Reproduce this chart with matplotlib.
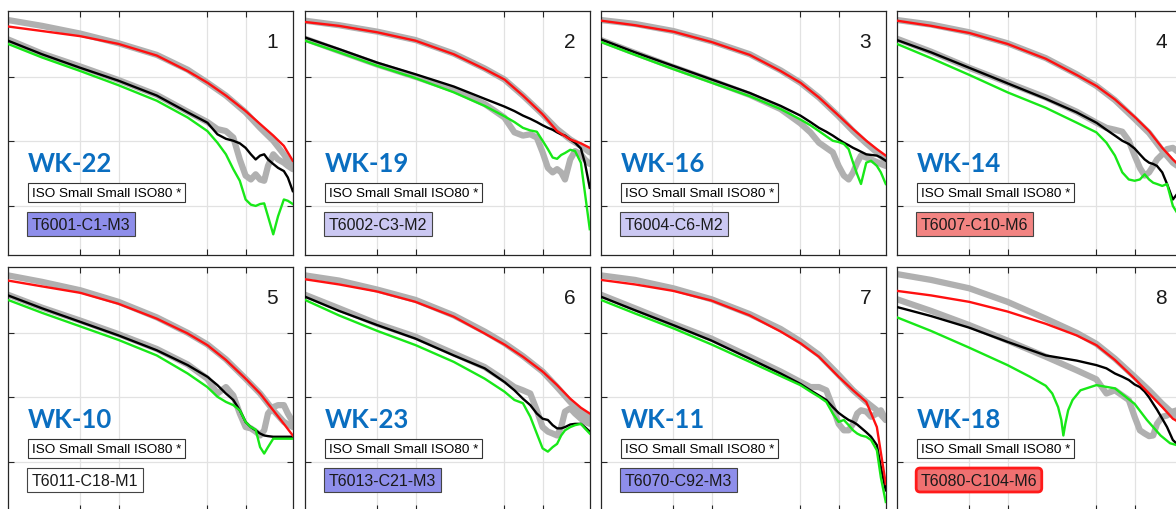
import matplotlib
matplotlib.use("Agg")
import matplotlib.pyplot as plt

# ---------------- data ----------------
X_SMOOTH = [0.27, 0.5, 1, 2, 4, 7, 10, 14, 20, 26, 33, 40, 47]
X_FINE = [0.27, 0.5, 1, 2, 4, 7, 10, 12, 14, 16, 18, 20, 22, 24, 26, 28, 30, 33, 36, 40, 43, 47]
X_P8_GREEN = [0.27, 0.5, 1, 2, 3, 4, 4.5, 5.0, 5.3, 5.5, 5.7, 6.0, 6.5, 7.5, 10, 14, 20, 25, 32, 38, 43, 47]

panel_numbers = ["1", "2", "3", "4", "5", "6", "7", "8"]
wk_labels = ["WK-22", "WK-19", "WK-16", "WK-14", "WK-10", "WK-23", "WK-11", "WK-18"]
case_labels = ["T6001-C1-M3", "T6002-C3-M2", "T6004-C6-M2", "T6007-C10-M6",
               "T6011-C18-M1", "T6013-C21-M3", "T6070-C92-M3", "T6080-C104-M6"]
case_colors = ["#8E8EEA", "#CBC8F2", "#CBC8F2", "#F28482",
               "#FFFFFF", "#8E8EEA", "#8E8EEA", "#F07070"]
iso_label = "ISO Small Small ISO80 *"

# smooth curves (X_SMOOTH)
p1_red = [37.8, 37.1, 36.3, 35.1, 33.3, 30.9, 29.1, 27.1, 24.7, 22.7, 20.9, 19.3, 17.0]
p1_gray_up = [38.8, 37.9, 36.7, 35.2, 33.4, 31.1, 29.1, 27.1, 24.5, 22.1, 20.1, 18.0, 15.9]
p2_red = [38.5, 37.9, 36.9, 35.6, 33.5, 31.2, 29.6, 27.1, 24.2, 21.6, 20.3, 19.7, 19.0]
p2_gray_up = [38.7, 38.0, 37.0, 35.7, 33.6, 31.3, 29.6, 27.1, 24.2, 21.9, 20.3, 19.3, 18.3]
p3_red = [38.7, 38.0, 37.0, 35.4, 33.4, 30.9, 29.1, 26.8, 24.0, 21.9, 20.1, 18.8, 17.8]
p3_gray_up = [38.8, 38.2, 37.1, 35.5, 33.5, 31.0, 29.1, 26.8, 23.9, 21.6, 19.7, 18.3, 17.0]
p4_red = [38.7, 37.9, 36.8, 35.1, 32.8, 30.3, 28.6, 26.5, 23.8, 21.6, 19.0, 17.2, 15.9]
p4_gray_up = [38.8, 38.1, 36.9, 35.2, 32.9, 30.4, 28.6, 26.4, 23.5, 21.3, 18.6, 16.7, 15.7]
p5_red = [38.1, 37.2, 36.2, 34.5, 32.2, 29.9, 28.1, 25.8, 22.9, 20.6, 18.0, 15.9, 14.1]
p5_gray_up = [38.9, 37.9, 36.6, 34.8, 32.4, 30.0, 28.2, 25.9, 22.9, 20.6, 18.0, 16.2, 15.4]
p6_red = [38.3, 37.5, 36.4, 34.8, 32.5, 29.9, 28.2, 26.3, 24.0, 21.9, 19.8, 18.4, 17.5]
p6_gray_up = [38.9, 38.1, 36.7, 35.1, 32.7, 30.2, 28.4, 26.4, 24.0, 21.6, 19.3, 17.8, 16.7]
p7_red = [38.2, 37.5, 36.5, 35.0, 32.7, 30.2, 28.4, 26.3, 23.2, 21.1, 19.3, 15.4, 6.6]
p7_gray_up = [38.9, 38.2, 36.9, 35.2, 32.9, 30.6, 28.7, 26.6, 23.5, 21.1, 19.3, 18.0, 16.5]
p8_red = [36.5, 35.8, 34.8, 33.3, 31.4, 29.6, 28.1, 25.8, 22.9, 20.6, 18.5, 16.7, 15.9]
p8_gray_up = [39.1, 38.2, 36.9, 34.8, 32.2, 30.0, 28.3, 26.0, 23.2, 21.1, 19.0, 17.5, 16.5]

# jagged curves (X_FINE)
p1_black = [35.6, 33.5, 31.4, 29.4, 27.1, 24.5, 22.9, 21.1, 20.4, 20.1, 19.7, 19.0, 18.0, 17.2, 17.8, 18.0, 17.2, 16.5, 15.9, 15.4, 14.4, 12.3]
p1_green = [35.1, 33.0, 30.9, 28.7, 26.3, 23.7, 21.6, 19.8, 18.0, 15.7, 13.9, 11.0, 10.2, 10.0, 10.3, 10.4, 8.4, 5.6, 8.4, 11.0, 10.8, 10.3]
p1_gray_lo = [35.8, 33.6, 31.6, 29.5, 27.2, 24.6, 23.0, 21.9, 21.6, 20.6, 17.2, 14.7, 14.1, 14.9, 14.1, 13.9, 16.2, 18.0, 17.2, 16.7, 16.2, 15.7]
p2_black = [36.1, 34.3, 32.2, 30.4, 28.5, 26.6, 25.4, 24.7, 24.0, 23.5, 23.0, 22.5, 22.1, 21.8, 21.4, 21.1, 20.9, 20.3, 19.8, 18.9, 16.7, 12.8]
p2_green = [35.6, 33.8, 31.7, 29.8, 27.6, 25.5, 23.9, 23.0, 22.1, 21.7, 21.5, 20.1, 18.8, 17.5, 17.3, 17.9, 18.2, 18.7, 18.5, 16.7, 12.1, 6.4]
p2_gray_lo = [35.9, 34.0, 31.9, 30.0, 28.0, 25.8, 23.7, 21.4, 20.9, 21.1, 20.6, 18.3, 15.9, 15.2, 15.7, 15.2, 14.1, 17.2, 18.5, 18.0, 17.2, 16.5]
p3_black = [35.8, 33.8, 31.7, 29.6, 27.5, 25.5, 24.0, 23.0, 22.1, 21.5, 20.9, 20.3, 19.8, 19.4, 19.0, 18.7, 18.4, 18.0, 17.9, 17.8, 17.5, 17.0]
p3_green = [35.4, 33.4, 31.2, 29.1, 27.0, 25.0, 23.4, 22.5, 21.6, 20.8, 20.1, 19.9, 19.6, 18.8, 16.7, 14.9, 13.4, 16.7, 17.0, 16.2, 15.2, 13.4]
p3_gray_lo = [35.7, 33.7, 31.5, 29.4, 27.2, 25.0, 22.8, 21.4, 19.8, 19.0, 18.3, 16.2, 14.7, 14.1, 15.2, 16.7, 17.8, 17.5, 17.2, 16.8, 16.5, 16.2]
p4_black = [35.7, 33.8, 31.4, 29.0, 26.6, 24.5, 22.9, 21.8, 20.9, 20.1, 19.6, 18.9, 18.0, 17.2, 16.7, 16.5, 16.2, 15.2, 13.4, 11.0, 11.8, 12.1]
p4_green = [35.1, 32.9, 30.3, 27.6, 25.2, 22.9, 21.4, 19.8, 17.8, 15.2, 14.1, 13.9, 14.1, 14.9, 14.1, 13.6, 13.4, 13.1, 13.4, 10.0, 9.0, 9.0]
p4_gray_lo = [35.9, 33.9, 31.4, 29.1, 26.8, 24.6, 22.9, 22.1, 21.8, 21.5, 20.1, 17.8, 15.9, 14.7, 15.2, 16.2, 17.2, 18.0, 18.8, 19.0, 18.5, 18.3]
p5_black = [35.8, 33.8, 31.7, 29.6, 27.3, 25.0, 23.2, 21.9, 20.6, 19.6, 18.0, 16.2, 15.4, 14.9, 14.4, 14.1, 14.0, 13.9, 13.9, 13.9, 13.9, 13.9]
p5_green = [35.1, 33.1, 31.0, 28.9, 26.5, 23.7, 21.6, 20.1, 19.3, 18.8, 18.0, 16.2, 15.4, 15.0, 12.3, 11.3, 12.3, 13.6, 13.6, 13.6, 13.6, 13.6]
p5_gray_lo = [35.9, 33.9, 31.9, 29.8, 27.5, 25.1, 22.9, 20.6, 21.6, 20.3, 17.5, 15.4, 15.2, 14.7, 14.1, 14.9, 17.5, 18.5, 18.8, 18.8, 17.5, 16.2]
p6_black = [35.6, 33.4, 31.2, 29.1, 26.5, 24.5, 22.4, 21.1, 19.8, 18.8, 17.5, 16.7, 16.5, 15.7, 15.2, 15.2, 15.4, 15.8, 15.9, 15.9, 15.4, 14.7]
p6_green = [35.1, 32.7, 30.3, 28.1, 25.5, 22.9, 20.9, 19.6, 19.1, 17.0, 14.4, 12.1, 11.6, 12.3, 12.8, 14.1, 14.9, 15.4, 15.7, 15.9, 15.2, 14.4]
p6_gray_lo = [35.9, 33.8, 31.4, 29.4, 26.8, 24.7, 22.7, 21.6, 21.1, 20.6, 18.0, 15.4, 14.7, 14.4, 14.1, 15.4, 17.8, 18.3, 17.5, 16.7, 16.2, 15.9]
p7_black = [35.6, 33.5, 31.2, 28.8, 26.0, 23.7, 22.1, 21.1, 20.3, 19.6, 18.5, 17.6, 17.0, 16.5, 16.2, 15.8, 15.3, 14.6, 13.9, 12.6, 9.2, 5.6]
p7_green = [35.1, 33.0, 30.7, 28.2, 25.5, 23.3, 21.9, 20.9, 20.1, 19.3, 17.5, 16.2, 16.5, 15.7, 14.9, 14.4, 14.1, 13.9, 13.4, 11.8, 7.6, 3.8]
p7_gray_lo = [35.9, 33.8, 31.4, 29.1, 26.3, 24.0, 22.4, 21.6, 21.6, 21.1, 18.5, 15.9, 14.9, 14.9, 15.9, 17.5, 18.0, 17.8, 17.0, 17.5, 18.0, 16.5]
p8_black = [34.0, 32.6, 30.8, 28.6, 26.5, 25.7, 25.0, 24.5, 23.7, 23.2, 22.7, 22.0, 21.6, 20.9, 20.0, 19.0, 18.1, 16.7, 15.4, 13.4, 12.8, 12.6]
p8_gray_lo = [35.2, 33.4, 31.2, 28.8, 26.3, 24.2, 22.8, 20.6, 21.1, 20.3, 19.6, 17.0, 14.9, 14.4, 14.0, 14.1, 15.9, 17.0, 17.2, 17.8, 18.0, 18.0]
# green of panel 8 (own abscissae, X_P8_GREEN)
p8_green = [32.4, 30.3, 27.7, 25.0, 23.2, 21.8, 20.6, 18.5, 16.5, 14.1, 15.9, 18.0, 19.6, 21.1, 21.9, 21.4, 19.0, 16.5, 14.1, 12.9, 12.6, 12.6]

panels = [
    (p1_gray_up, p1_gray_lo, p1_red, p1_black, p1_green, X_FINE),
    (p2_gray_up, p2_gray_lo, p2_red, p2_black, p2_green, X_FINE),
    (p3_gray_up, p3_gray_lo, p3_red, p3_black, p3_green, X_FINE),
    (p4_gray_up, p4_gray_lo, p4_red, p4_black, p4_green, X_FINE),
    (p5_gray_up, p5_gray_lo, p5_red, p5_black, p5_green, X_FINE),
    (p6_gray_up, p6_gray_lo, p6_red, p6_black, p6_green, X_FINE),
    (p7_gray_up, p7_gray_lo, p7_red, p7_black, p7_green, X_FINE),
    (p8_gray_up, p8_gray_lo, p8_red, p8_black, p8_green, X_P8_GREEN),
]

# ---------------- layout ----------------
W, H = 1176, 510
fig = plt.figure(figsize=(W / 100, H / 100), dpi=100)
fig.patch.set_facecolor("white")

col_left = [8, 305, 601, 897]
row_top = [12, 268]
aw, ah = 285, 244

GRAY = "#B0B0B0"
RED = "#FF1010"
GREEN = "#18E818"
BLUE = "#0A6EC0"

for i, (gu, gl, red, blk, grn, xg) in enumerate(panels):
    r, c = divmod(i, 4)
    ax = fig.add_axes([col_left[c] / W, 1 - (row_top[r] + ah) / H, aw / W, ah / H])
    ax.set_xscale("log")
    ax.set_xlim(0.27, 47.2)
    ax.set_ylim(2.4, 40.2)
    ax.set_xticks([1, 2, 10, 20])
    ax.set_yticks([10, 20, 30])
    ax.xaxis.set_minor_locator(matplotlib.ticker.NullLocator())
    ax.set_xticklabels([])
    ax.set_yticklabels([])
    ax.tick_params(direction="in", length=4, width=0.8, top=True, right=True,
                   color="#262626")
    ax.grid(True, color="#E2E2E2", lw=0.9)
    ax.set_axisbelow(True)
    for s in ax.spines.values():
        s.set_color("#262626")
        s.set_linewidth(0.9)

    kw_g = dict(color=GRAY, lw=4.5, solid_joinstyle="round", solid_capstyle="round", zorder=2)
    ax.plot(X_SMOOTH, gu, **kw_g)
    ax.plot(X_FINE, gl, **kw_g)
    ax.plot(X_FINE, blk, color="black", lw=1.7, zorder=3)
    ax.plot(xg, grn, color=GREEN, lw=1.7, zorder=4)
    ax.plot(X_SMOOTH, red, color=RED, lw=1.7, zorder=5)

    ax.text(0.948, 0.873, panel_numbers[i], transform=ax.transAxes, ha="right",
            va="center", fontsize=15, color="#1a1a1a", family="Liberation Sans")
    ax.text(0.068, 0.345, wk_labels[i], transform=ax.transAxes, ha="left",
            va="baseline", fontsize=18.5, fontweight="bold", color=BLUE, family="Lato")
    ax.text(0.083, 0.256, iso_label, transform=ax.transAxes, ha="left", va="center",
            fontsize=9.7, family="Liberation Sans", zorder=6,
            bbox=dict(boxstyle="square,pad=0.28", fc="white", ec="#333333", lw=0.8))
    if i == 7:
        bb = dict(boxstyle="round,pad=0.28,rounding_size=0.25", fc=case_colors[i],
                  ec="#FF1A1A", lw=2.0)
    else:
        bb = dict(boxstyle="square,pad=0.28", fc=case_colors[i], ec="#444444", lw=0.8)
    ax.text(0.083, 0.127, case_labels[i], transform=ax.transAxes, ha="left",
            va="center", fontsize=11.5, family="Liberation Sans", color="#1a1a1a",
            zorder=6, bbox=bb)

fig.savefig("out.png", dpi=100, facecolor="white")
